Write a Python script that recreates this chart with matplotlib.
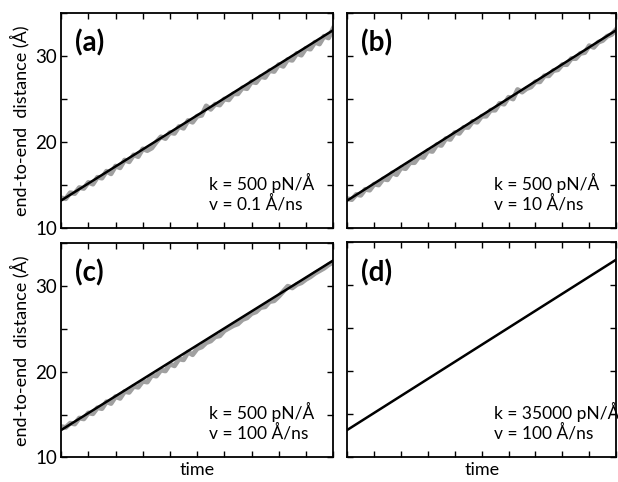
import numpy as np
import matplotlib.pyplot as plt

# fitted line (same in all panels)
line_start = 13.2
line_end = 33.0

# gray traces (end-to-end distance, Angstrom)
a_gray = [13.5, 13.4, 14.1, 14.0, 14.7, 14.6, 15.3, 15.1, 15.9, 15.8, 16.6, 16.3, 17.2, 17.0,
          17.9, 17.7, 18.5, 18.3, 19.2, 19.0, 19.3, 20.0, 20.6, 20.4, 21.1, 21.0, 21.8, 21.6,
          22.5, 22.3, 23.0, 23.1, 24.2, 23.8, 24.4, 24.3, 25.0, 24.9, 25.6, 25.6, 26.3, 26.2,
          27.0, 26.9, 27.6, 27.5, 28.3, 28.2, 29.0, 28.8, 29.6, 29.5, 30.3, 30.1, 30.9, 30.8,
          31.6, 31.4, 32.3, 32.1, 33.2]
b_gray = [13.4, 13.3, 13.9, 13.8, 14.5, 14.4, 15.1, 15.0, 15.7, 15.6, 16.4, 16.2, 17.0, 16.9,
          17.6, 17.6, 18.3, 18.2, 19.0, 18.9, 19.7, 19.6, 20.4, 20.3, 21.1, 21.0, 21.7, 21.7,
          22.4, 22.3, 23.0, 23.0, 23.7, 23.7, 24.5, 24.4, 25.2, 25.0, 26.1, 25.8, 26.2, 26.4,
          27.0, 27.0, 27.7, 27.7, 28.3, 28.4, 29.0, 29.0, 29.7, 29.7, 30.3, 30.4, 31.2, 31.0,
          31.6, 31.8, 32.3, 32.5, 33.1]
c_gray = [13.6, 13.5, 14.0, 13.9, 14.6, 14.5, 15.2, 15.1, 15.8, 15.7, 16.5, 16.3, 17.1, 16.9,
          17.7, 17.6, 18.3, 18.2, 18.9, 18.8, 19.6, 19.5, 20.2, 20.1, 20.9, 20.7, 21.5, 21.4,
          22.3, 22.0, 22.7, 22.9, 23.4, 23.6, 24.1, 24.2, 24.8, 25.1, 25.4, 25.6, 26.1, 26.3,
          26.8, 27.0, 27.5, 27.6, 28.2, 28.3, 28.8, 29.4, 30.0, 29.8, 30.2, 30.4, 30.8, 31.1,
          31.5, 31.8, 32.1, 32.5, 32.8]

panel_tags = ["(a)", "(b)", "(c)", "(d)"]
k_labels = ["k = 500 pN/Å", "k = 500 pN/Å", "k = 500 pN/Å", "k = 35000 pN/Å"]
v_labels = ["v = 0.1 Å/ns", "v = 10 Å/ns", "v = 100 Å/ns", "v = 100 Å/ns"]
traces = [a_gray, b_gray, c_gray, None]

plt.rcParams['font.family'] = ['Lato', 'DejaVu Sans']

fig = plt.figure(figsize=(6.18, 4.82), dpi=100)
# axes boxes in figure fraction [left, bottom, width, height]
boxes = [[0.099, 0.527, 0.440, 0.446],
         [0.562, 0.527, 0.435, 0.446],
         [0.099, 0.051, 0.440, 0.444],
         [0.562, 0.051, 0.435, 0.446]]

for i in range(4):
    ax = fig.add_axes(boxes[i])
    tr = traces[i]
    if tr is not None:
        t = np.linspace(0, 1, len(tr))
        ax.plot(t, tr, color="#a0a0a0", lw=3.5)
    ax.plot([0, 1], [line_start, line_end], color="black", lw=1.8)
    ax.set_xlim(0, 1)
    ax.set_ylim(10, 35)
    ax.set_xticks(np.arange(0, 1.01, 0.1))
    ax.set_xticklabels([])
    ax.set_yticks([10, 15, 20, 25, 30, 35])
    if i % 2 == 0:
        ax.set_yticklabels(["10", "", "20", "", "30", ""])
        ax.set_ylabel("end-to-end  distance (Å)", fontsize=13, labelpad=4)
    else:
        ax.set_yticklabels([])
    if i >= 2:
        ax.set_xlabel("time", fontsize=13, labelpad=0)
    ax.tick_params(direction="in", top=True, right=True, length=4, width=1,
                   labelsize=13.5, pad=3)
    for s in ax.spines.values():
        s.set_linewidth(1.3)
    ax.text(0.05, 0.86, panel_tags[i], transform=ax.transAxes, fontsize=20,
            fontweight="bold", va="center", ha="left")
    ax.text(0.545, 0.21, k_labels[i], transform=ax.transAxes, fontsize=12.5,
            va="center", ha="left")
    ax.text(0.545, 0.115, v_labels[i], transform=ax.transAxes, fontsize=12.5,
            va="center", ha="left")

fig.savefig("out.png", dpi=100)
